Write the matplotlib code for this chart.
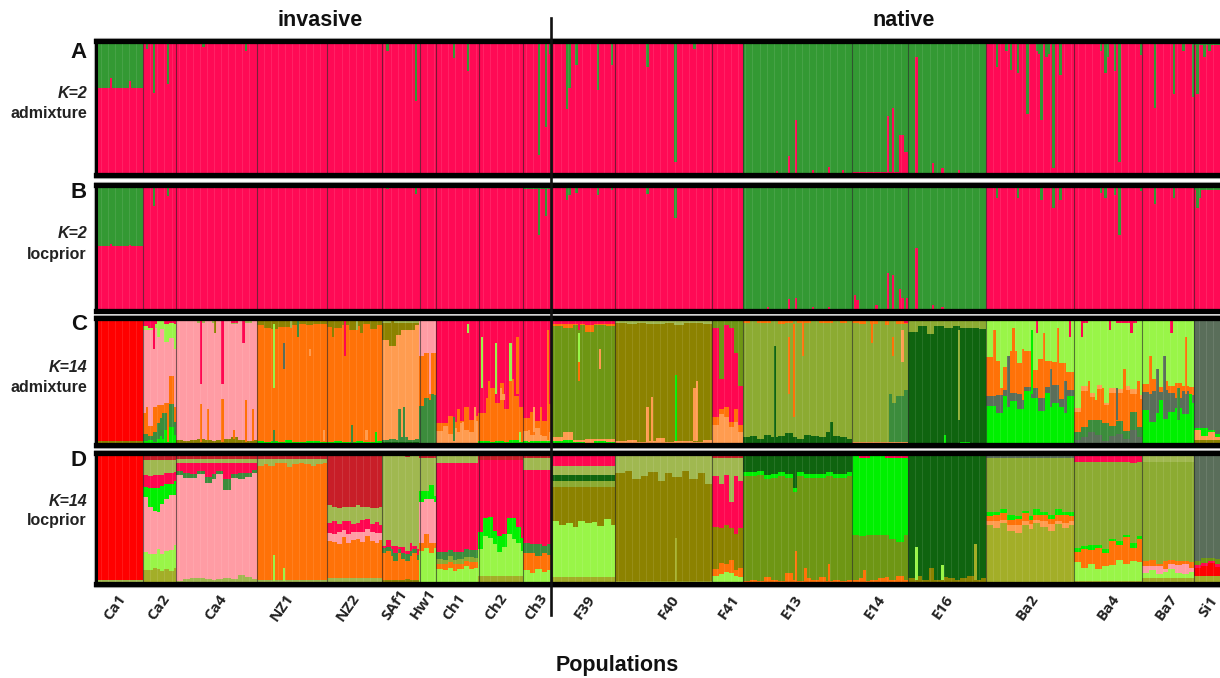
#!/usr/bin/python3
import matplotlib
matplotlib.use("Agg")
import matplotlib.pyplot as plt
from matplotlib.patches import Rectangle

W, H = 1220, 678

pops = ['Ca1', 'Ca2', 'Ca4', 'NZ1', 'NZ2', 'SAf1', 'Hw1', 'Ch1', 'Ch2', 'Ch3',
        'F39', 'F40', 'F41', 'E13', 'E14', 'E16', 'Ba2', 'Ba4', 'Ba7', 'Si1']
pop_n = [20, 14, 34, 30, 23, 16, 7, 18, 19, 12, 27, 41, 13, 46, 24, 33, 37, 29, 22, 11]

# K=2: share of the green cluster per population, then single individuals
a_base = [.35, .015, .02, .01, .02, .015, .01, .015, .01, .01,
          .015, .015, .005, .985, .98, .985, .02, .02, .025, .03]
a_idx = [6, 14, 21, 24, 30, 63, 45, 123, 135, 151, 157, 187, 190, 192,
         199, 200, 203, 212, 218, 233, 245, 253,
         293, 296, 288, 303, 310, 316, 335, 337, 340, 341, 342, 343, 347, 354, 358, 365,
         381, 385, 387, 390, 394, 398, 399, 400, 402, 403, 405, 408,
         425, 427, 428, 431, 433, 442, 448, 456, 460, 464, 466, 469, 471]
a_val = [.28, .30, .06, .39, .32, .08, .05, .08, .45, .13, .23, .85, .64, .1,
         .51, .35, .18, .37, .18, .2, .9, .06,
         .86, .59, .97, .96, .94, .96, .56, .5, .7, .7, .83, .83, .12, .91, .95, .96,
         .2, .08, .22, .24, .55, .08, .1, .59, .12, .1, .95, .26,
         .08, .24, .12, .23, .9, .11, .5, .4, .08, .42, .4, .12, .08]

b_base = [.485, .006, .004, .01, .01, .006, .004, .006, .005, .03,
          .015, .012, .004, .985, .985, .985, .02, .02, .015, .04]
b_idx = [6, 14, 24, 30, 123, 135, 187, 190, 199, 200, 203, 212, 218, 233, 245,
         284, 293, 296, 303, 310, 321, 322, 330, 335, 337, 340, 341, 343, 347, 354, 358,
         381, 390, 400, 405, 408, 425, 427, 431, 433, 442, 448, 456, 466, 467]
b_val = [.47, .48, .17, .09, .03, .07, .4, .25, .12, .08, .06, .08, .04, .07, .26,
         .97, .91, .9, .97, .97, .88, .92, .96, .7, .72, .83, .9, .9, .5, .96, .97,
         .1, .1, .12, .18, .12, .06, .1, .08, .4, .05, .15, .1, .18, .1]

# K=14 panel C, layers from the bottom of the bar upward
c_ca1 = [('olive', 3), ('red', 94), ('sage', 3)]
c_ca2 = [('bright', [3, 4, 2, 5, 7, 12, 14, 8]), ('mid', [6, 3, 8, 12, 14, 13, 18, 10]),
         ('orange', [16, 8, 20, 14, 10, 8, 22, 12]), ('pink', [65, 75, 62, 60, 60, 48, 30, 45]),
         ('lime', [3, 2, 3, 4, 6, 14, 12, 20]), ('crim', [7, 8, 5, 5, 3, 5, 4, 5])]
c_ca4 = [('dark', 1), ('olive', [3, 2, 3, 4, 3, 2, 3, 4, 5, 3, 2, 3]),
         ('pink', [93, 94, 92, 90, 93, 92, 94, 91, 88, 92, 92, 93]), ('sage', 1),
         ('crim', [1, 1, 2, 3, 1, 3, 1, 2, 4, 2, 3, 1])]
c_nz1 = [('dark', 1), ('bright', [2, 1, 2, 1, 3, 1, 1, 2, 2, 1]),
         ('orange', [90, 88, 86, 90, 87, 91, 92, 90, 91, 92]),
         ('olive', [3, 5, 6, 4, 4, 3, 2, 3, 2, 2]), ('sage', 3)]
c_nz2 = [('dark', 1), ('bright', [1, 2, 1, 1, 2, 1, 1, 2]),
         ('orange', [90, 88, 91, 87, 90, 92, 88, 91]),
         ('olive', [4, 5, 3, 7, 4, 2, 6, 3]), ('sage', 3)]
c_saf1 = [('dark', 2), ('mid', [2, 3, 2, 4, 2, 3]), ('peach', [78, 72, 82, 84, 86, 90]),
          ('olive', [14, 18, 10, 6, 6, 2]), ('sage', 2), ('crim', 2)]
c_hw1 = [('mid', [30, 36, 34, 38]), ('orange', [38, 34, 36, 32]),
         ('pink', [26, 24, 24, 24]), ('crim', 3)]
c_ch1 = [('dark', 1), ('peach', [10, 14, 8, 12, 16, 11, 9, 18]),
         ('orange', [6, 2, 14, 5, 2, 18, 10, 4]), ('crim', [83, 83, 77, 82, 81, 70, 80, 77])]
c_ch2 = [('dark', 1), ('bright', [2, 1, 2, 1, 3, 1]), ('orange', [22, 34, 42, 30, 45, 26, 48, 35, 28]),
         ('crim', [75, 64, 55, 68, 51, 72, 49, 63, 70])]
c_ch3 = [('bright', 3), ('peach', [8, 5, 10, 4, 7]), ('orange', [10, 18, 6, 12, 22]),
         ('crim', [79, 74, 81, 81, 68])]
c_f39 = [('bright', [3, 4, 2, 1, 3, 2]), ('peach', [3, 6, 2, 4, 2, 3]),
         ('moss', [87, 82, 90, 84, 89, 88]), ('orange', [2, 3, 1, 5, 1, 2]),
         ('crim', [3, 3, 3, 4, 3, 3]), ('sage', 2)]
c_f40 = [('dark', 1), ('peach', [2, 3, 1, 2, 4, 1, 2, 2, 1, 3]),
         ('olive', [92, 90, 93, 91, 88, 94, 90, 92, 93, 90]), ('sage', 3), ('crim', [1, 2, 1, 2, 2, 1, 3, 1, 1, 2])]
c_f41 = [('peach', [16, 24, 22, 14, 18, 10]), ('orange', [6, 4, 8, 4, 10, 6]),
         ('crim', [70, 24, 64, 74, 44, 30]), ('moss', [6, 46, 4, 6, 26, 52]), ('olive', 2)]
c_e13 = [('dark', [6, 7, 5, 8, 6, 7, 9, 6, 5, 8, 7, 6, 10, 7, 6, 5]),
         ('leaf', [89, 88, 91, 87, 90, 88, 86, 89, 91, 87, 88, 90, 85, 88, 89, 91]),
         ('orange', [2, 1, 2, 2, 1, 3, 2, 1, 2, 2, 1, 2, 2, 1, 2, 1]), ('sage', 2)]
c_e14 = [('dark', 1), ('peach', 1), ('mid', [0, 0, 0, 0, 0, 0, 30, 36, 40]),
         ('leaf', [93, 92, 94, 91, 93, 90, 62, 56, 50]), ('orange', [1, 3, 1, 2, 1, 3, 1, 2, 1]),
         ('crim', [3, 2, 2, 3, 2, 3, 2, 3, 4])]
c_e16 = [('bright', [1, 0, 1, 0, 2, 0, 1]), ('dark', [87, 92, 85, 93, 90, 93, 91, 92, 90]),
         ('leaf', [8, 4, 10, 4, 5, 4, 5, 5, 6]), ('sage', 2), ('orange', 1)]
c_ba2 = [('bright', [30, 25, 38, 34, 28, 42, 36, 26, 40, 32, 30, 38]),
         ('slate', [8, 14, 4, 6, 12, 3, 8, 10, 5, 14, 6, 4]),
         ('orange', [30, 26, 18, 32, 24, 28, 14, 30, 20, 18, 28, 14]),
         ('lime', [28, 32, 36, 24, 34, 24, 38, 30, 32, 32, 34, 40]), ('crim', 2)]
c_ba4 = [('slate', [4, 6, 10, 8, 3, 7, 9, 5, 12, 6]), ('mid', [6, 8, 10, 12, 14, 8, 10, 6, 14, 8]),
         ('orange', [16, 28, 18, 24, 14, 26, 22, 32, 14, 22]),
         ('peach', [3, 4, 3, 3, 2, 4, 3, 3, 4, 3]),
         ('lime', [68, 50, 56, 50, 64, 52, 52, 50, 52, 58]), ('crim', [3, 4, 3, 3, 3, 3, 4, 4, 4, 3])]
c_ba7 = [('bright', [28, 20, 34, 22, 26, 30, 24, 32]), ('slate', [14, 26, 6, 24, 14, 8, 18, 6]),
         ('orange', [6, 10, 4, 8, 6, 12, 4, 6]), ('lime', 52), ('crim', 1)]
c_si1 = [('olive', 4), ('peach', [8, 3, 6, 2]), ('bright', [1, 6, 2, 3]), ('slate', [84, 82, 86, 88]), ('sage', 3)]
c_layers = [c_ca1, c_ca2, c_ca4, c_nz1, c_nz2, c_saf1, c_hw1, c_ch1, c_ch2, c_ch3,
            c_f39, c_f40, c_f41, c_e13, c_e14, c_e16, c_ba2, c_ba4, c_ba7, c_si1]

# single individuals that stand out in panel C
c_streak_idx = [24, 26, 21, 30, 28, 44, 53, 62, 50, 44, 47, 53, 63, 75, 79, 75, 105, 108, 118, 130,
                157, 153, 147, 163, 169, 175, 172, 191, 185, 204, 204, 204, 213,
                235, 233, 253, 254, 245, 287, 295, 299, 293, 311, 336, 341, 328, 337, 365, 359,
                85, 90, 100, 112, 125, 128, 141, 142, 160, 178,
                380, 383, 386, 388, 392, 396, 398, 401, 404, 407, 410, 412,
                417, 420, 423, 426, 429, 432, 435, 438, 441,
                446, 449, 452, 455, 458, 461, 463,
                148, 151, 155, 166, 171, 179, 183, 188, 58, 66, 82, 96, 110, 114]
c_streak_clr = ['crim', 'lime', 'orange', 'orange', 'mid', 'crim', 'crim', 'crim', 'olive', 'orange',
                'orange', 'orange', 'orange', 'lime', 'slate', 'mid', 'crim', 'mid', 'bright', 'mid',
                'lime', 'orange', 'peach', 'lime', 'lime', 'lime', 'peach', 'orange', 'peach',
                'orange', 'lime', 'crim', 'peach', 'peach', 'peach', 'peach', 'peach', 'bright',
                'dark', 'orange', 'orange', 'orange', 'dark', 'mid', 'peach', 'orange', 'orange',
                'leaf', 'bright', 'mid', 'peach', 'olive', 'olive', 'olive', 'mid', 'pink', 'mid',
                'peach', 'orange',
                'orange', 'lime', 'slate', 'orange', 'orange', 'bright', 'crim', 'orange', 'slate', 'orange', 'slate', 'crim',
                'crim', 'orange', 'lime', 'orange', 'crim', 'slate', 'orange', 'crim', 'orange',
                'orange', 'slate', 'slate', 'crim', 'mid', 'orange', 'bright',
                'peach', 'mid', 'peach', 'orange', 'peach', 'lime', 'peach', 'orange', 'orange', 'orange', 'sage', 'peach', 'sage', 'peach']
c_streak_lo = [75, 85, 10, 2, 5, 48, 48, 80, 88, 2, 4, 2, 2, 45, 60, 2, 70, 1, 1, 5,
               88, 10, 5, 45, 40, 50, 35, 4, 10, 50, 65, 90, 60,
               3, 3, 3, 3, 3, 5, 22, 70, 40, 1, 2, 65, 80, 70, 20, 0,
               85, 70, 85, 88, 90, 3, 40, 3, 10, 40,
               40, 45, 30, 55, 35, 40, 88, 45, 30, 60, 25, 85,
               85, 30, 35, 20, 90, 20, 35, 88, 25,
               40, 25, 35, 88, 20, 40, 5,
               2, 3, 12, 25, 35, 2, 2, 8, 5, 3, 92, 3, 90, 4]
c_streak_hi = [98, 100, 30, 30, 25, 100, 100, 100, 98, 32, 28, 36, 35, 95, 80, 12, 100, 16, 10, 30,
               95, 28, 15, 85, 80, 80, 40, 90, 30, 65, 88, 100, 75,
               38, 30, 45, 50, 55, 78, 95, 98, 85, 18, 40, 90, 100, 85, 90, 8,
               98, 75, 95, 96, 98, 28, 80, 40, 30, 85,
               90, 85, 70, 92, 75, 90, 100, 88, 60, 92, 50, 100,
               100, 50, 70, 45, 100, 45, 60, 100, 50,
               70, 60, 70, 100, 45, 85, 40,
               15, 22, 18, 50, 45, 10, 12, 30, 12, 28, 98, 12, 98, 12]

# K=14 panel D
d_ca1 = [('sage', 3), ('red', 94), ('slate', 1), ('sage', 2)]
d_ca2 = [('yolk', [10, 10, 12, 11, 10, 11, 10, 12]), ('lime', [14, 12, 10, 15, 13, 14, 16, 18]),
         ('pink', [42, 36, 33, 28, 38, 40, 42, 38]), ('bright', [8, 14, 17, 18, 14, 12, 9, 11]),
         ('crim', [9, 9, 10, 10, 9, 8, 8, 7]), ('sage', [11, 12, 11, 11, 11, 10, 10, 9]), ('dkred', 6)]
d_ca4 = [('sage', [2, 3, 4, 4, 3, 3, 3, 4, 3, 6, 5, 3]),
         ('pink', [79, 76, 75, 78, 72, 76, 79, 66, 76, 72, 75, 80]),
         ('mid', [3, 4, 3, 2, 5, 4, 2, 8, 3, 5, 3, 2]), ('crim', [6, 7, 8, 6, 10, 8, 6, 12, 8, 7, 7, 5]),
         ('sage', 3), ('dkred', 5)]
d_nz1 = [('sage', 3), ('orange', [86, 88, 87, 88, 89, 86, 88, 89, 88, 87, 88, 88]),
         ('sage', [5, 4, 5, 3, 3, 6, 4, 3, 4, 5, 4, 3]), ('dkred', 5)]
d_nz2 = [('sage', 4), ('orange', [28, 27, 25, 30, 26, 28, 30, 27, 31, 27, 25, 28]),
         ('pink', [6, 6, 8, 5, 7, 6, 5, 7, 5, 6, 7, 5]), ('crim', [8, 9, 6, 7, 9, 6, 7, 9, 7, 6, 8, 6]),
         ('sage', [13, 11, 12, 10, 11, 13, 14, 10, 9, 12, 10, 13]), ('dkred', 40)]
d_saf1 = [('olive', 3), ('orange', [20, 22, 18, 14, 20, 16, 14, 18, 20, 15]),
          ('mid', [4, 3, 5, 6, 3, 4, 5, 4, 3, 4]), ('crim', [2, 5, 3, 6, 2, 5, 2, 6, 3, 4]),
          ('sage', [68, 64, 68, 68, 69, 69, 71, 66, 68, 71]), ('dkred', 3)]
d_hw1 = [('lime', [24, 26, 22, 26]), ('orange', [6, 10, 8, 4]), ('pink', [30, 26, 32, 30]),
         ('bright', [8, 6, 10, 4]), ('sage', [24, 24, 20, 28]), ('dkred', 4)]
d_ch1 = [('lime', [11, 10, 12, 10, 11, 13, 11, 12]), ('orange', [4, 5, 4, 5, 4, 4, 5, 4]),
         ('leaf', [4, 3, 5, 3, 4, 3, 4, 3]), ('mid', [5, 6, 4, 6, 5, 6, 5, 6]),
         ('crim', [68, 67, 66, 69, 68, 66, 66, 66]), ('sage', 5), ('dkred', 3)]
d_ch2 = [('yolk', 6), ('lime', [20, 30, 29, 24, 18, 22, 32, 28, 25, 19]),
         ('bright', [13, 14, 16, 10, 12, 10, 12, 16, 12, 10]),
         ('crim', [54, 44, 43, 54, 58, 56, 44, 44, 51, 59]), ('dkred', 6)]
d_ch3 = [('lime', [10, 8, 11, 9, 10]), ('orange', [13, 15, 10, 14, 12]), ('mid', [8, 7, 9, 6, 8]),
         ('crim', [56, 57, 57, 58, 57]), ('sage', 9), ('dkred', 4)]
d_f39 = [('yolk', 5), ('lime', [43, 40, 41, 38, 43, 41, 42, 39, 44, 40]),
         ('olive', [26, 29, 28, 31, 26, 28, 27, 30, 25, 29]), ('leaf', 4), ('dark', 5), ('sage', 7),
         ('crim', 7), ('dkred', 3)]
d_f40 = [('yolk', 2), ('olive', [82, 84, 78, 80, 83, 76, 82, 79, 84, 78, 82, 74]),
         ('sage', [14, 12, 18, 16, 13, 20, 14, 17, 12, 18, 14, 22]), ('dkred', 2)]
d_f41 = [('lime', [6, 7, 9, 8, 6, 5]), ('orange', [5, 9, 6, 10, 4, 7]),
         ('olive', [32, 26, 30, 24, 28, 30]), ('crim', [38, 34, 38, 20, 44, 36]),
         ('sage', [14, 20, 13, 34, 14, 18]), ('dkred', 4)]
d_e13 = [('orange', [2, 3, 2, 5, 3, 2, 8, 3, 2, 4, 3, 5, 2, 3, 2, 3]),
         ('moss', [79, 78, 80, 74, 77, 79, 72, 66, 79, 76, 77, 75, 79, 77, 78, 78]),
         ('bright', 3), ('dark', [12, 12, 11, 14, 13, 12, 13, 24, 12, 13, 13, 13, 12, 13, 13, 12]),
         ('sage', 2), ('dkred', 1)]
d_e14 = [('orange', [3, 4, 2, 3, 4, 5, 3, 6, 3]), ('moss', [34, 33, 35, 34, 33, 32, 31, 26, 34]),
         ('bright', [59, 60, 59, 60, 60, 59, 62, 64, 59]), ('crim', [2, 3, 3, 2, 2, 3, 3, 3, 3]), ('dkred', 1)]
d_e16 = [('olive', [4, 6, 3, 12, 3, 5, 4, 3, 4, 6, 3, 4]),
         ('dark', [93, 91, 94, 85, 94, 92, 93, 94, 93, 91, 94, 92]), ('sage', 2), ('dkred', 1)]
d_ba2 = [('yolk', [44, 42, 46, 40, 38, 44, 41, 46, 43, 40, 45, 42, 44]),
         ('peach', [3, 5, 2, 4, 6, 3, 4, 2, 4, 5, 2, 4, 3]), ('orange', [4, 5, 5, 4, 5, 6, 3, 4, 5, 4, 5, 6, 4]),
         ('bright', [3, 2, 3, 4, 2, 2, 3, 4, 2, 3, 4, 2, 3]),
         ('leaf', [41, 41, 39, 43, 44, 40, 44, 39, 41, 43, 39, 41, 41]),
         ('slate', 1), ('peach', 1), ('dkred', 2)]
d_ba4 = [('yolk', 2), ('lime', [14, 10, 13, 9, 11, 12, 16, 13, 15, 14]),
         ('orange', [8, 14, 10, 16, 10, 18, 12, 20, 10, 18]), ('bright', [3, 2, 4, 2, 3, 2, 3, 2, 4, 2]),
         ('leaf', [65, 64, 63, 63, 66, 58, 61, 55, 61, 56]), ('crim', [4, 4, 4, 4, 4, 4, 4, 4, 5, 4]),
         ('dkred', 3)]
d_ba7 = [('yolk', 4), ('lime', [4, 6, 3, 5, 7, 4, 3, 5]), ('pink', [5, 3, 6, 2, 4, 6, 8, 3]),
         ('orange', [4, 5, 2, 6, 3, 3, 2, 4]), ('leaf', [75, 74, 77, 75, 74, 75, 75, 76]),
         ('sage', [5, 5, 5, 5, 5, 5, 5, 5]), ('dkred', 2)]
d_si1 = [('yolk', 6), ('red', [6, 8, 10, 7]), ('crim', 2), ('moss', [3, 4, 2, 4]), ('slate', 80), ('sage', 2), ('dkred', 1)]
d_layers = [d_ca1, d_ca2, d_ca4, d_nz1, d_nz2, d_saf1, d_hw1, d_ch1, d_ch2, d_ch3,
            d_f39, d_f40, d_f41, d_e13, d_e14, d_e16, d_ba2, d_ba4, d_ba7, d_si1]

d_streak_idx = [75, 79, 245, 347, 372, 296, 310, 300, 325, 358]
d_streak_clr = ['lime', 'lime', 'yolk', 'lime', 'yolk', 'orange', 'orange', 'orange', 'orange', 'lime']
d_streak_lo = [2, 2, 2, 3, 3, 2, 2, 2, 2, 3]
d_streak_hi = [22, 12, 35, 28, 30, 25, 15, 12, 10, 14]

k2_green = '#339933'
k2_red = '#ff0a55'
clr = {'red': '#ff0000', 'pink': '#ff9ca4', 'orange': '#ff7208', 'peach': '#ff9c50',
       'crim': '#ff0650', 'dkred': '#c81e28', 'lime': '#99f548', 'bright': '#00f000',
       'sage': '#a0b850', 'olive': '#8c8200', 'moss': '#6e9614', 'leaf': '#8cab32',
       'dark': '#0f640f', 'slate': '#5a6e5a', 'mid': '#3c8c3c', 'yolk': '#a3ae28'}

panel_y = [(40.5, 175), (185, 310.5), (317.5, 445), (452.5, 583.5)]
panel_outer = [(38, 178), (182.5, 313), (315, 447.5), (450, 586.5)]
panel_letter = ['A', 'B', 'C', 'D']
panel_k = ['K=2', 'K=2', 'K=14', 'K=14']
panel_mode = ['admixture', 'locprior', 'admixture', 'locprior']
letter_y = [53, 193, 325, 461]
k_y = [94, 234, 367, 501]
mode_y = [114, 254, 387, 521]
label_x = [115, 159, 216, 282, 348, 395, 423, 454, 496, 536,
           585, 669, 729, 792, 875, 943, 1027, 1108, 1166, 1208]
label_y = [607, 607, 607, 607, 607, 605, 604, 607, 607, 607,
           607, 607, 607, 607, 607, 607, 607, 607, 607, 607]

plt.rcParams['font.family'] = ['Liberation Sans', 'DejaVu Sans']
fig = plt.figure(figsize=(W / 100, H / 100), dpi=100)
total = sum(pop_n)


def px(x0, y0, x1, y1):
    return [x0 / W, 1 - y1 / H, (x1 - x0) / W, (y1 - y0) / H]


def k2_panel(ax, base, idx, val):
    green = []
    for b, n in zip(base, pop_n):
        green += [b] * n
    for i, v in zip(idx, val):
        green[i] = v
    xs = [i + .5 for i in range(total)]
    red = [1 - g for g in green]
    ax.bar(xs, red, bottom=0, width=1.05, color=k2_red, linewidth=0)
    ax.bar(xs, green, bottom=red, width=1.05, color=k2_green, linewidth=0)


def k14_panel(ax, layers):
    start = 0
    for pop, n in zip(layers, pop_n):
        ncol = max(len(v) if isinstance(v, list) else 1 for _, v in pop)
        for j in range(n):
            col = j * ncol // n
            hs = [v[col * len(v) // ncol] if isinstance(v, list) else v for _, v in pop]
            tot = float(sum(hs))
            bottom = 0
            for (name, _), h in zip(pop, hs):
                ax.bar(start + j + .5, h / tot, bottom=bottom, width=1.05, color=clr[name], linewidth=0)
                bottom += h / tot
        start += n


def streaks(ax, idx, colours, lo, hi):
    for i, c, l, h in zip(idx, colours, lo, hi):
        ax.bar(i + .5, (h - l) / 100, bottom=l / 100, width=1.0, color=clr[c], linewidth=0)


axes = []
for i in range(4):
    y0, y1 = panel_y[i]
    ax = fig.add_axes(px(96, y0, 1220, y1))
    ax.set_facecolor('white')
    axes.append(ax)
    o0, o1 = panel_outer[i]
    fig.add_artist(Rectangle((94 / W, 1 - o1 / H), 1126 / W, (o1 - o0) / H, transform=fig.transFigure,
                             facecolor='none', edgecolor='#b4b4b4', linewidth=.8, zorder=0))

k2_panel(axes[0], a_base, a_idx, a_val)
k2_panel(axes[1], b_base, b_idx, b_val)
k14_panel(axes[2], c_layers)
streaks(axes[2], c_streak_idx, c_streak_clr, c_streak_lo, c_streak_hi)
k14_panel(axes[3], d_layers)
streaks(axes[3], d_streak_idx, d_streak_clr, d_streak_lo, d_streak_hi)

edges = []
s = 0
for n in pop_n[:-1]:
    s += n
    edges.append(s)

for i, ax in enumerate(axes):
    ax.set_xlim(0, total)
    ax.set_ylim(0, 1)
    ax.set_xticks([])
    ax.set_yticks([])
    # faint stripes the image has between bars
    for x in range(2, total, 3):
        ax.axvline(x, color='white', lw=.7, alpha=.1)
    for e in edges:
        ax.axvline(e, color='#202020', lw=.8, alpha=.6)
    ax.spines['right'].set_visible(False)
    ax.spines['top'].set_linewidth(3.8)
    ax.spines['bottom'].set_linewidth(3.8)
    ax.spines['left'].set_linewidth(2.2)

    fig.text(87 / W, 1 - letter_y[i] / H, panel_letter[i], ha='right', va='center',
             fontsize=16, fontweight='bold', color='#111111')
    fig.text(87 / W, 1 - k_y[i] / H, panel_k[i], ha='right', va='center',
             fontsize=11.5, fontweight='bold', style='italic', color='#222222')
    fig.text(87 / W, 1 - mode_y[i] / H, panel_mode[i], ha='right', va='center',
             fontsize=11.5, fontweight='bold', color='#222222')

# invasive / native divider
fig.add_artist(plt.Line2D([551 / W, 551 / W], [1 - 18 / H, 1 - 615 / H], color='#111111', lw=1.9, zorder=10))

fig.text(320 / W, 1 - 20 / H, 'invasive', ha='center', va='center', fontsize=15.5, fontweight='bold', color='#111111')
fig.text(904 / W, 1 - 20 / H, 'native', ha='center', va='center', fontsize=15.5, fontweight='bold', color='#111111')
fig.text(617 / W, 1 - 666 / H, 'Populations', ha='center', va='center', fontsize=15.5, fontweight='bold', color='#111111')

for name, x, y in zip(pops, label_x, label_y):
    fig.text(x / W, 1 - y / H, name, rotation=55, ha='center', va='center',
             fontsize=11, fontweight='bold', family=['Open Sans', 'DejaVu Sans'], color='#222222')

fig.savefig('out.png', dpi=100)
